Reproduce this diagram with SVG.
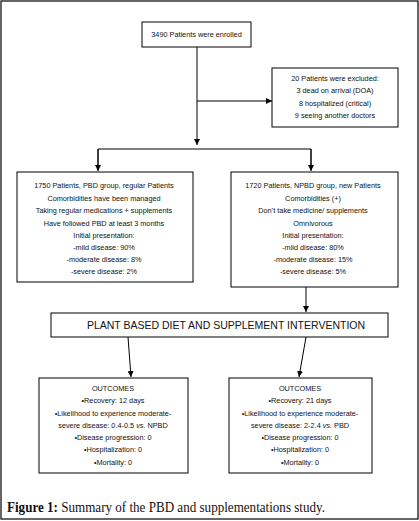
<svg xmlns="http://www.w3.org/2000/svg" width="419" height="521" viewBox="0 0 419 521">
<style>
.box{fill:#fff;stroke:#000;stroke-width:1}
.t{font-family:"Liberation Sans",Arial,sans-serif;font-size:7.3px;fill:#111;text-anchor:middle}
.big{font-family:"Liberation Sans",Arial,sans-serif;font-size:10.5px;fill:#111;text-anchor:middle}
.ln{fill:none;stroke:#000;stroke-width:1}
.cap{font-family:"Liberation Serif","Times New Roman",serif;font-size:14px;fill:#111}
</style>
<defs>
<marker id="ah" viewBox="0 0 10 10" refX="10" refY="5" markerWidth="6" markerHeight="6" markerUnits="userSpaceOnUse" orient="auto">
<path d="M0,0 L10,5 L0,10 z" fill="#000"/>
</marker>
</defs>
<rect x="0" y="0" width="419" height="521" fill="#fff"/>
<rect x="1" y="1" width="417" height="518" fill="none" stroke="#000" stroke-width="1.2"/>
<g id="connectors">
<path class="ln" d="M197,47 V145" marker-end="url(#ah)"/>
<path class="ln" d="M197,101 H272" marker-end="url(#ah)"/>
<path class="ln" d="M98,170 V149 H311 V170"/>
<path class="ln" d="M98,149 V171" marker-end="url(#ah)"/>
<path class="ln" d="M311,149 V171" marker-end="url(#ah)"/>
<path class="ln" d="M306,287 V312" marker-end="url(#ah)"/>
<path class="ln" d="M128,337 L131,377" marker-end="url(#ah)"/>
<path class="ln" d="M306,337 L299,377" marker-end="url(#ah)"/>
</g>
<g id="enrolled">
<rect class="box" x="142" y="22" width="109" height="25"/>
<text class="t" x="196.5" y="37">3490 Patients were enrolled</text>
</g>
<g id="excluded">
<rect class="box" x="272" y="68" width="126" height="59"/>
<text class="t" x="335" y="81">20 Patients were excluded:</text>
<text class="t" x="335" y="93">3 dead on arrival (DOA)</text>
<text class="t" x="335" y="105.5">8 hospitalized (critical)</text>
<text class="t" x="335" y="118">9 seeing another doctors</text>
</g>
<g id="pbd">
<rect class="box" x="17" y="172" width="176" height="110"/>
<text class="t" x="104" y="188">1750 Patients, PBD group, regular Patients</text>
<text class="t" x="104" y="200.5">Comorbidities have been managed</text>
<text class="t" x="104" y="213">Taking regular medications + supplements</text>
<text class="t" x="104" y="225.5">Have followed PBD at least 3 months</text>
<text class="t" x="104" y="237.5">Initial presentation:</text>
<text class="t" x="104" y="249.5">-mild disease: 90%</text>
<text class="t" x="104" y="262">-moderate disease: 8%</text>
<text class="t" x="104" y="274">-severe disease: 2%</text>
</g>
<g id="npbd">
<rect class="box" x="231" y="172" width="167" height="115"/>
<text class="t" x="313" y="188">1720 Patients, NPBD group, new Patients</text>
<text class="t" x="313" y="200.5">Comorbidities (+)</text>
<text class="t" x="313" y="213">Don’t take medicine/ supplements</text>
<text class="t" x="313" y="225.5">Omnivorous</text>
<text class="t" x="313" y="237.5">Initial presentation:</text>
<text class="t" x="313" y="249.5">-mild disease: 80%</text>
<text class="t" x="313" y="262">-moderate disease: 15%</text>
<text class="t" x="313" y="274">-severe disease: 5%</text>
</g>
<g id="intervention">
<rect class="box" x="51" y="313" width="337" height="24"/>
<text class="big" x="226" y="329">PLANT BASED DIET AND SUPPLEMENT INTERVENTION</text>
</g>
<g id="outcome-pbd">
<rect class="box" x="39" y="378" width="149" height="95"/>
<text class="t" x="113" y="391">OUTCOMES</text>
<text class="t" x="113" y="403">•Recovery: 12 days</text>
<text class="t" x="113" y="415.5">•Likelihood to experience moderate-</text>
<text class="t" x="113" y="428">severe disease: 0.4-0.5 <tspan font-style="italic">vs.</tspan> NPBD</text>
<text class="t" x="113" y="440">•Disease progression: 0</text>
<text class="t" x="113" y="452">•Hospitalization: 0</text>
<text class="t" x="113" y="464.5">•Mortality: 0</text>
</g>
<g id="outcome-npbd">
<rect class="box" x="229" y="378" width="143" height="95"/>
<text class="t" x="300" y="391">OUTCOMES</text>
<text class="t" x="300" y="403">•Recovery: 21 days</text>
<text class="t" x="300" y="415.5">•Likelihood to experience moderate-</text>
<text class="t" x="300" y="428">severe disease: 2-2.4 <tspan font-style="italic">vs.</tspan> PBD</text>
<text class="t" x="300" y="440">•Disease progression: 0</text>
<text class="t" x="300" y="452">•Hospitalization: 0</text>
<text class="t" x="300" y="464.5">•Mortality: 0</text>
</g>
<text class="cap" x="7" y="512" textLength="318" lengthAdjust="spacingAndGlyphs"><tspan font-weight="bold">Figure 1:</tspan> Summary of the PBD and supplementations study.</text>
</svg>
